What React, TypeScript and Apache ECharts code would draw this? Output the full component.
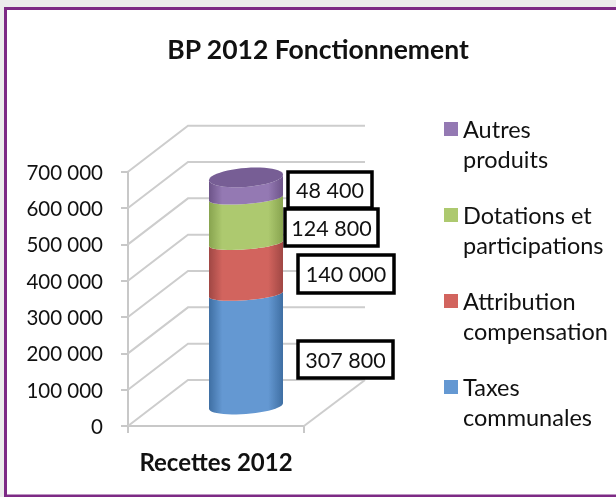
import React, { useEffect, useRef } from "react";
import * as echarts from "echarts";

const categories = ["Recettes 2012"];
const seriesNames = ["Taxes communales", "Attribution compensation", "Dotations et participations", "Autres produits"];
const legendLines = ["Taxes\ncommunales", "Attribution\ncompensation", "Dotations et\nparticipations", "Autres\nproduits"];
const values = [307800, 140000, 124800, 48400];
const valueLabels = ["307 800", "140 000", "124 800", "48 400"];
const colors = ["#6498d2", "#d2645e", "#adc96f", "#9479b3"];
const darkColors = ["#3f6fa3", "#a04744", "#88a44f", "#6d5489"];
const yTicks = [0, 100000, 200000, 300000, 400000, 500000, 600000, 700000];

const FONT = "Lato, 'Open Sans', sans-serif";
const DEPTH_X = 60;
const DEPTH_Y = 46;
const CYL_L = 209;
const CYL_R = 283;
const BASE_LIFT = 20;
const TOP_RAISE = 3;
const RX = 37;
const RY_ARC = 6;
const RY_BASE = 8;
const RY_TOP = 9.5;
const TILT = -0.075;
const boxes = [
  { x: 298, y: 341, w: 95, h: 37 },
  { x: 298, y: 255, w: 96, h: 38 },
  { x: 285, y: 209, w: 93, h: 37 },
  { x: 288, y: 172, w: 84, h: 36 },
];

const ellipsePt = (cx: number, cy: number, t: number, ry: number) => {
  const dx = RX * Math.cos(t);
  return [cx + dx, cy + ry * Math.sin(t) + TILT * dx];
};

const bandPoints = (cx: number, yTop: number, yBot: number, ryTop: number, ryBot: number) => {
  const pts: number[][] = [];
  const n = 24;
  for (let i = 0; i <= n; i++) pts.push(ellipsePt(cx, yBot, (Math.PI * i) / n, ryBot));
  for (let i = n; i >= 0; i--) pts.push(ellipsePt(cx, yTop, (Math.PI * i) / n, ryTop));
  return pts;
};

const topPoints = (cx: number, y: number) => {
  const pts: number[][] = [];
  for (let i = 0; i < 48; i++) pts.push(ellipsePt(cx, y, (2 * Math.PI * i) / 48, RY_TOP));
  return pts;
};

export default function App() {
  const ref = useRef<HTMLDivElement>(null);
  useEffect(() => {
    document.body.style.margin = "0";
    const chart = echarts.init(ref.current!, null, { renderer: "svg" });

    const wallSeries = {
      type: "custom",
      silent: true,
      z: 1,
      data: yTicks.map((v) => [0, v]),
      encode: { x: 0, y: 1 },
      renderItem: (_: any, api: any) => {
        const y = api.coord([0, api.value(1)])[1];
        const sz = api.size([1, 0])[0];
        const xL = api.coord([0, 0])[0] - sz / 2;
        const xR = xL + sz;
        const lineStyle = { stroke: "#cdcdcd", lineWidth: 2, fill: null };
        const children: any[] = [
          {
            type: "polyline",
            shape: { points: [[xL, y], [xL + DEPTH_X, y - DEPTH_Y], [xR + DEPTH_X + 1, y - DEPTH_Y]] },
            style: lineStyle,
          },
        ];
        if (api.value(1) === 0) {
          children.push({
            type: "polyline",
            shape: { points: [[xR, y], [xR + DEPTH_X + 1, y - DEPTH_Y]] },
            style: lineStyle,
          });
        }
        return { type: "group", children };
      },
    };

    const segSeries = values.map((v, i) => {
      const start = values.slice(0, i).reduce((a, b) => a + b, 0);
      const isTop = i === values.length - 1;
      return {
        type: "custom",
        name: seriesNames[i],
        silent: true,
        z: 3 + i,
        itemStyle: { color: colors[i] },
        data: [[0, start, start + v]],
        encode: { x: 0, y: [1, 2] },
        renderItem: (_: any, api: any) => {
          const yBot = api.coord([0, api.value(1)])[1] - BASE_LIFT;
          const yTop = api.coord([0, api.value(2)])[1] - BASE_LIFT - (isTop ? TOP_RAISE : 0);
          const cx = (CYL_L + CYL_R) / 2;
          const fill = new echarts.graphic.LinearGradient(0, 0, 1, 0, [
            { offset: 0, color: darkColors[i] },
            { offset: 0.18, color: colors[i] },
            { offset: 0.8, color: colors[i] },
            { offset: 1, color: darkColors[i] },
          ]);
          const children: any[] = [
            {
              type: "polygon",
              shape: { points: bandPoints(cx, yTop, yBot, isTop ? RY_TOP : RY_ARC, i === 0 ? RY_BASE : RY_ARC) },
              style: { fill },
            },
          ];
          if (isTop) {
            children.push({
              type: "polygon",
              shape: { points: topPoints(cx, yTop) },
              style: { fill: "#775e95" },
            });
          }
          const b = boxes[i];
          children.push({
            type: "rect",
            z2: 20,
            shape: { x: b.x, y: b.y, width: b.w, height: b.h },
            style: { fill: "#ffffff", stroke: "#000000", lineWidth: 3.5 },
          });
          children.push({
            type: "text",
            z2: 21,
            x: b.x + b.w / 2,
            y: b.y + b.h / 2,
            style: {
              text: valueLabels[i],
              fill: "#111111",
              font: `21.5px ${FONT}`,
              align: "center",
              verticalAlign: "middle",
            },
          });
          return { type: "group", children };
        },
      };
    });

    chart.setOption({
      animation: false,
      backgroundColor: "#ececec",
      title: {
        text: "BP 2012 Fonctionnement",
        left: 313,
        top: 30,
        textAlign: "center",
        textStyle: { fontFamily: FONT, fontWeight: "bold", fontSize: 26.5, color: "#111111" },
      },
      graphic: [
        {
          type: "rect",
          z: -10,
          shape: { x: 5.5, y: 8.5, width: 640, height: 487.5 },
          style: { fill: "#ffffff", stroke: "#7d2a85", lineWidth: 3 },
        },
      ],
      grid: { left: 128, top: 171.7, width: 176, height: 254.3 },
      legend: {
        orient: "vertical",
        left: 439,
        top: 79,
        selectedMode: false,
        icon: "rect",
        itemWidth: 14,
        itemHeight: 14,
        itemGap: -4,
        data: [...seriesNames].reverse(),
        formatter: (name: string) => "\n" + legendLines[seriesNames.indexOf(name)],
        textStyle: { fontFamily: FONT, fontSize: 23.5, lineHeight: 30, color: "#111111" },
      },
      xAxis: {
        type: "category",
        data: categories,
        axisLine: { lineStyle: { color: "#c8c8c8", width: 2 } },
        axisTick: { show: true, length: 7, lineStyle: { color: "#c8c8c8", width: 2 } },
        axisLabel: { margin: 23, fontFamily: FONT, fontWeight: "bold", fontSize: 24, color: "#111111" },
      },
      yAxis: {
        type: "value",
        min: 0,
        max: 700000,
        interval: 100000,
        axisLine: { show: true, lineStyle: { color: "#c8c8c8", width: 2 } },
        axisTick: { show: true, length: 7, lineStyle: { color: "#c8c8c8", width: 2 } },
        splitLine: { show: false },
        axisLabel: {
          margin: 25,
          padding: [8, 0, 0, 0],
          fontFamily: FONT,
          fontSize: 20.5,
          color: "#111111",
          formatter: (v: number) => (v === 0 ? "0" : `${v / 1000} 000`),
        },
      },
      series: [wallSeries, ...segSeries],
    });
    return () => chart.dispose();
  }, []);
  return <div ref={ref} style={{ width: 616, height: 497, filter: "blur(0.6px)" }} />;
}
